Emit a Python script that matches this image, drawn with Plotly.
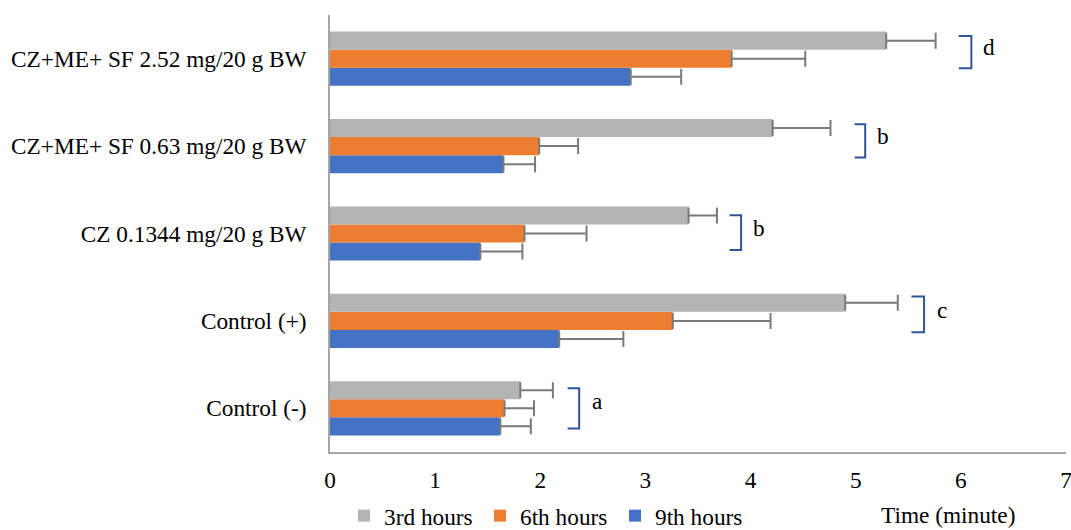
import plotly.graph_objects as go

categories = ["Control (-)", "Control (+)", "CZ 0.1344 mg/20 g BW",
              "CZ+ME+ SF 0.63 mg/20 g BW", "CZ+ME+ SF 2.52 mg/20 g BW"]
h3_vals = [1.81, 4.90, 3.41, 4.21, 5.29]
h3_err = [0.31, 0.50, 0.27, 0.55, 0.47]
h6_vals = [1.66, 3.26, 1.85, 1.99, 3.82]
h6_err = [0.28, 0.93, 0.59, 0.37, 0.70]
h9_vals = [1.62, 2.18, 1.43, 1.65, 2.86]
h9_err = [0.29, 0.61, 0.40, 0.30, 0.48]
letters = ["a", "c", "b", "b", "d"]
series_names = ["3rd hours", "6th hours", "9th hours"]
x_ticks = [0, 1, 2, 3, 4, 5, 6, 7]

# bracket annotation placement (data coords)
bracket_left = [2.26, 5.53, 3.80, 4.99, 5.98]
bracket_right = [2.37, 5.65, 3.91, 5.09, 6.10]
bracket_top = [0.23, 0.28, 0.21, 0.25, 0.26]
bracket_bot = [-0.23, -0.13, -0.19, -0.13, -0.11]
letter_x = [2.54, 5.82, 4.08, 5.26, 6.27]
letter_y = [0.08, 0.12, 0.06, 0.12, 0.13]

FONT = "Liberation Serif, Times New Roman, serif"
FS = 23.3
colors = {"3rd hours": "#B4B4B4", "6th hours": "#ED7D31", "9th hours": "#4472C4"}
err_color = "#7A7A7A"
legend_ids = {"3rd hours": "legend", "6th hours": "legend2", "9th hours": "legend3"}

W, H = 1071, 530
ML, MR, MT, MB = 330, 5, 15, 78
PW = W - ML - MR
PH = H - MT - MB
legend_x = {"legend": (344 - ML) / PW, "legend2": (480 - ML) / PW, "legend3": (615 - ML) / PW}

fig = go.Figure()
for name, vals, err in [("9th hours", h9_vals, h9_err),
                        ("6th hours", h6_vals, h6_err),
                        ("3rd hours", h3_vals, h3_err)]:
    fig.add_trace(go.Bar(
        y=categories, x=vals, name=name, orientation="h",
        legend=legend_ids[name],
        marker=dict(color=colors[name], line=dict(width=0)),
        error_x=dict(type="data", array=err, arrayminus=[0] * len(err),
                     symmetric=False, color=err_color, thickness=2, width=8),
    ))

shapes = []
annotations = []
for i, cat in enumerate(categories):
    l, r = bracket_left[i], bracket_right[i]
    t, b = i + bracket_top[i], i + bracket_bot[i]
    path = f"M {l},{t} L {r},{t} L {r},{b} L {l},{b}"
    shapes.append(dict(type="path", xref="x", yref="y", path=path,
                       line=dict(color="#2F5597", width=2)))
    annotations.append(dict(x=letter_x[i], y=i + letter_y[i], xref="x", yref="y",
                            text=letters[i], showarrow=False,
                            font=dict(family=FONT, size=FS, color="black")))

annotations.append(dict(x=(948 - ML) / PW, y=-(515 - (H - MB)) / PH,
                        xref="paper", yref="paper", xanchor="center", yanchor="middle",
                        text="Time (minute)", showarrow=False,
                        font=dict(family=FONT, size=FS, color="black")))

legend_common = dict(orientation="h", xanchor="left", y=-(516 - (H - MB)) / PH,
                     yanchor="middle", bgcolor="rgba(0,0,0,0)",
                     font=dict(family=FONT, size=FS, color="black"))

fig.update_layout(
    width=W, height=H,
    margin=dict(l=ML, r=MR, t=MT, b=MB, autoexpand=False),
    paper_bgcolor="white", plot_bgcolor="white",
    barmode="group", bargap=0.38, bargroupgap=0,
    font=dict(family=FONT, size=FS, color="black"),
    shapes=shapes, annotations=annotations,
    showlegend=True,
    legend=dict(x=legend_x["legend"], **legend_common),
    legend2=dict(x=legend_x["legend2"], **legend_common),
    legend3=dict(x=legend_x["legend3"], **legend_common),
    xaxis=dict(range=[0, 7], tickvals=x_ticks, ticktext=[str(v) for v in x_ticks],
               showgrid=False, zeroline=False, showline=True, linecolor="#A6A6A6",
               linewidth=1.5, ticks="", ticklabelstandoff=6, automargin=False,
               ticklabeloverflow="allow",
               tickfont=dict(family=FONT, size=FS, color="black")),
    yaxis=dict(categoryorder="array", categoryarray=categories,
               range=[-0.5, 4.5],
               showgrid=False, zeroline=False, showline=True, linecolor="#A6A6A6",
               linewidth=1.5, ticks="", ticklabelstandoff=17, automargin=False,
               tickfont=dict(family=FONT, size=FS, color="black")),
)

fig.write_html(
    "out.html",
    config={"displayModeBar": False},
    post_script="document.body.style.margin='0px';document.body.style.overflow='hidden';",
)
